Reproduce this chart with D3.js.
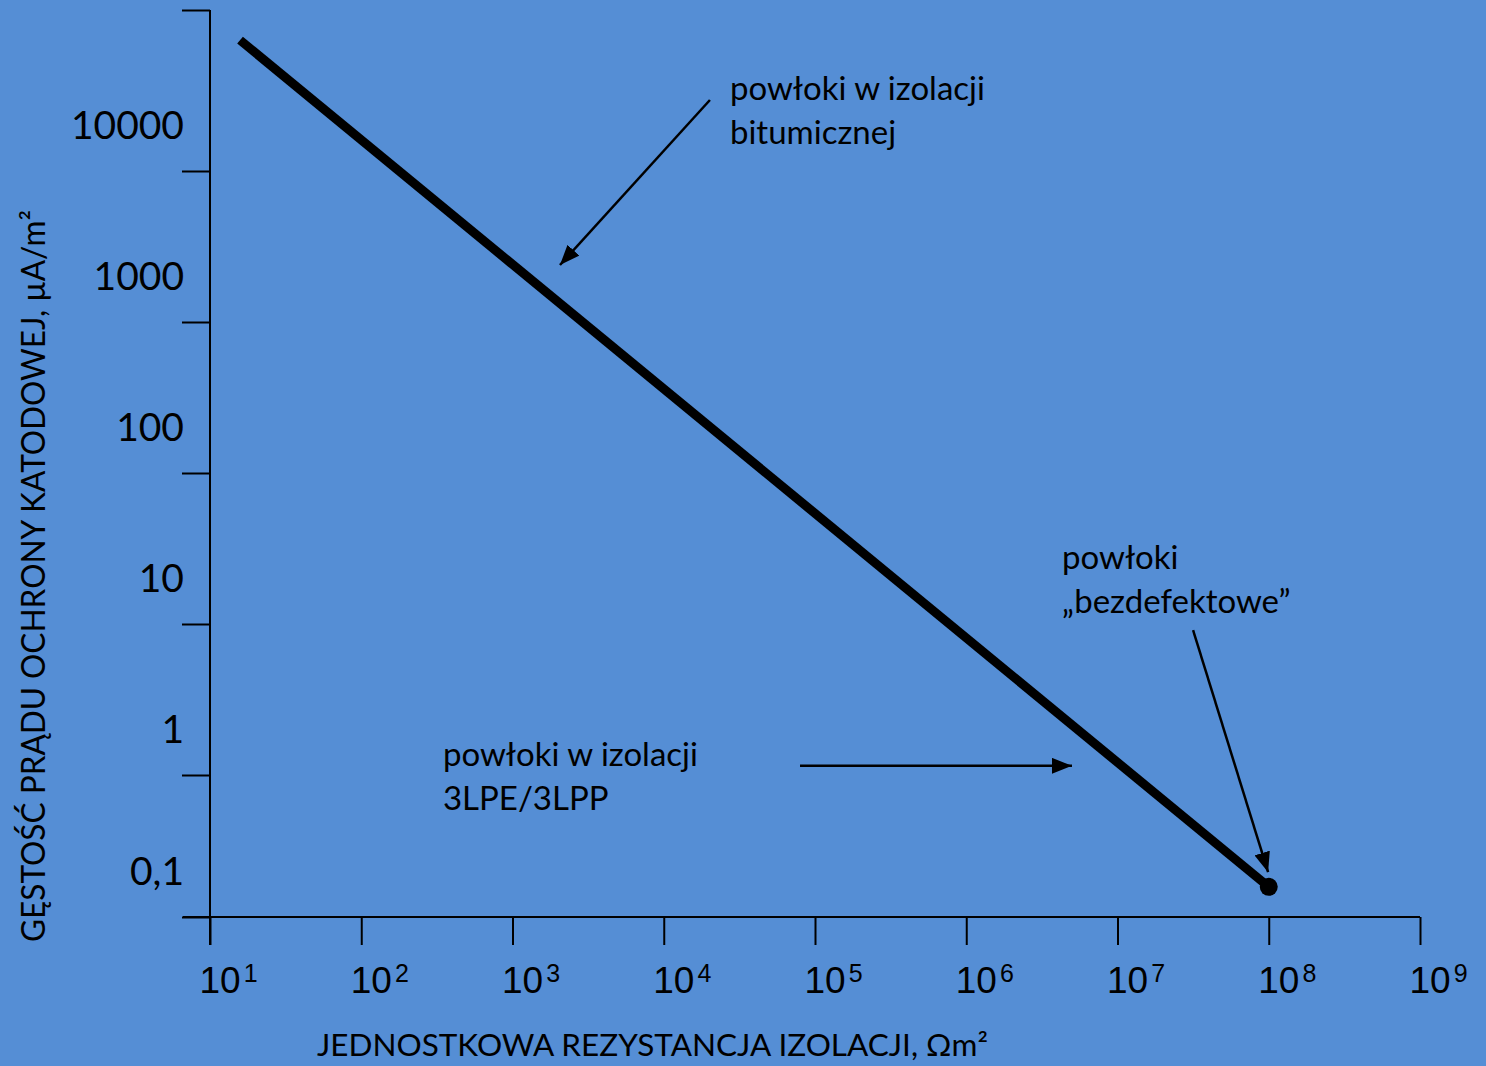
<!DOCTYPE html>
<html>
<head>
<meta charset="utf-8">
<script src="https://cdn.jsdelivr.net/npm/d3@7"></script>
<style>
  html, body { margin: 0; padding: 0; background: #558ed5; }
  svg { display: block; font-family: Lato, "Open Sans", sans-serif; }
</style>
</head>
<body>
<svg id="chart" width="1486" height="1066"></svg>
<script>
// axis ticks
var xTicks = [1e1, 1e2, 1e3, 1e4, 1e5, 1e6, 1e7, 1e8, 1e9];
var xExp = ["1", "2", "3", "4", "5", "6", "7", "8", "9"];
var yTicks = [0.1, 1, 10, 100, 1000, 10000, 100000];
var yLabels = ["0,1", "1", "10", "100", "1000", "10000", ""];

// the line
var lineX = [15.8, 1e8];
var lineY = [65000, 0.163];
var dotX = 1e8, dotY = 0.163;

// annotations
var annLines = [["powłoki w izolacji", "bitumicznej"], ["powłoki w izolacji", "3LPE/3LPP"], ["powłoki", "„bezdefektowe”"]];
var annX = [27400, 347, 4.3e6];
var annY = [27600, 1.15, 23.1];
var arrFromX = [20200, 79600, 3.16e7];
var arrFromY = [27600, 1.15, 9.1];
var arrToX = [2060, 5.0e6, 9.9e7];
var arrToY = [2385, 1.15, 0.207];

var svg = d3.select("#chart");

var x = d3.scaleLog().domain([1e1, 1e9]).range([210, 1420]);
// the hand-drawn y axis has slightly uneven decades at its ends
var y = d3.scaleLog().domain([0.1, 1, 10000, 100000]).range([917, 775, 171, 10]);

svg.append("defs").append("marker")
  .attr("id", "head")
  .attr("markerUnits", "userSpaceOnUse")
  .attr("viewBox", "0 0 20 16")
  .attr("refX", 20).attr("refY", 8)
  .attr("markerWidth", 20).attr("markerHeight", 16)
  .attr("orient", "auto")
  .append("path").attr("d", "M0,0L20,8L0,16Z").attr("fill", "#000");

// x axis
var gx = svg.append("g").attr("transform", "translate(0,917)")
  .call(d3.axisBottom(x).tickValues(xTicks).tickSize(28).tickSizeOuter(0).tickFormat(""));
gx.select(".domain").attr("d", "M183,0H1420");
gx.selectAll("path, line").attr("stroke", "#000").attr("stroke-width", 2);
gx.selectAll(".tick").each(function(d, i) {
  var t = d3.select(this).append("text")
    .attr("x", -11).attr("y", 76)
    .attr("text-anchor", "start")
    .attr("fill", "#000")
    .style("font-size", "37px");
  t.append("tspan").text("10");
  t.append("tspan").attr("dx", 3).attr("dy", -11).style("font-size", "25px").text(xExp[i]);
});

// y axis
var gy = svg.append("g").attr("transform", "translate(210,0)")
  .call(d3.axisLeft(y).tickValues(yTicks).tickSize(28).tickSizeOuter(0)
    .tickFormat(function(d, i) { return yLabels[i]; }));
gy.select(".domain").attr("d", "M0,10V945");
gy.selectAll("path, line").attr("stroke", "#000").attr("stroke-width", 2);
gy.selectAll(".tick text")
  .attr("x", -26).attr("y", -33).attr("dy", 0)
  .attr("fill", "#000")
  .style("font-size", "39px")
  .style("font-family", "Lato, sans-serif");

// axis titles
svg.append("text")
  .attr("x", 317).attr("y", 1056)
  .attr("textLength", 671).attr("lengthAdjust", "spacingAndGlyphs")
  .style("font-size", "31px")
  .text("JEDNOSTKOWA REZYSTANCJA IZOLACJI, Ωm²");

svg.append("text")
  .attr("transform", "translate(45,942) rotate(-90)")
  .attr("textLength", 732).attr("lengthAdjust", "spacingAndGlyphs")
  .style("font-size", "32px")
  .text("GĘSTOŚĆ PRĄDU OCHRONY KATODOWEJ, µA/m²");

// main line
var pts = lineX.map(function(v, i) { return [v, lineY[i]]; });
svg.append("path")
  .attr("d", d3.line().x(function(d) { return x(d[0]); }).y(function(d) { return y(d[1]); })(pts))
  .attr("fill", "none").attr("stroke", "#000").attr("stroke-width", 9);

svg.append("circle")
  .attr("cx", x(dotX)).attr("cy", y(dotY)).attr("r", 9)
  .attr("fill", "#000");

// arrows
svg.selectAll(".arrow").data(arrFromX).enter().append("line")
  .attr("class", "arrow")
  .attr("x1", function(d, i) { return x(arrFromX[i]); })
  .attr("y1", function(d, i) { return y(arrFromY[i]); })
  .attr("x2", function(d, i) { return x(arrToX[i]); })
  .attr("y2", function(d, i) { return y(arrToY[i]); })
  .attr("stroke", "#000").attr("stroke-width", 2.5)
  .attr("marker-end", "url(#head)");

// annotation texts
svg.selectAll(".ann").data(annLines).enter().append("text")
  .attr("class", "ann")
  .attr("x", function(d, i) { return x(annX[i]); })
  .attr("y", function(d, i) { return y(annY[i]); })
  .style("font-size", "33px")
  .each(function(d, i) {
    var t = d3.select(this);
    d.forEach(function(s, j) {
      t.append("tspan").attr("x", x(annX[i])).attr("dy", j ? 44 : 0).text(s);
    });
  });
</script>
</body>
</html>
